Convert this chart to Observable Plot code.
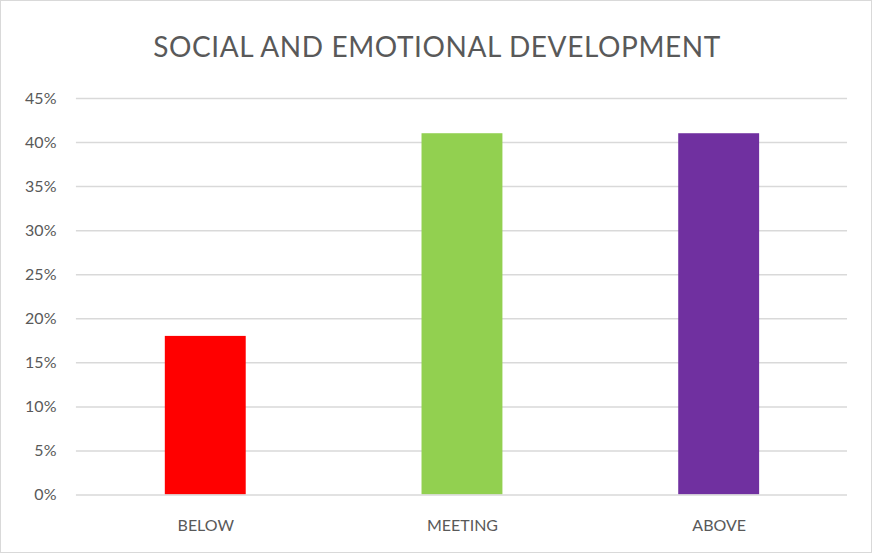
<!DOCTYPE html>
<html>
<head>
<meta charset="utf-8">
<script src="https://cdn.jsdelivr.net/npm/d3@7"></script>
<script src="https://cdn.jsdelivr.net/npm/@observablehq/plot@0.6"></script>
<style>
  html, body { margin: 0; padding: 0; background: #fff; }
  #chart {
    position: relative; width: 872px; height: 553px; box-sizing: border-box;
    border: 1px solid #d9d9d9; background: #fff; overflow: hidden;
  }
  #title {
    position: absolute; left: 0; top: 28px; width: 872px; text-align: center;
    font-family: Lato, "Open Sans", sans-serif; font-size: 28px; color: #595959;
    line-height: 34px; letter-spacing: 0.6px;
  }
  #plot { position: absolute; left: -1px; top: 77px; }
</style>
</head>
<body>
<div id="chart">
  <div id="title">SOCIAL AND EMOTIONAL DEVELOPMENT</div>
  <div id="plot"></div>
</div>
<script>
const categories = ["BELOW", "MEETING", "ABOVE"];
const values = [18, 41, 41];
const colors = ["#ff0000", "#92d050", "#7030a0"];
const yTicks = [0, 5, 10, 15, 20, 25, 30, 35, 40, 45];

const data = categories.map((c, i) => ({category: c, value: values[i], color: colors[i]}));

const chart = Plot.plot({
  width: 872,
  height: 476,
  marginTop: 20,
  marginBottom: 59,
  marginLeft: 76,
  marginRight: 24,
  style: {fontFamily: "Lato, 'Open Sans', sans-serif", fontSize: "16px", color: "#595959", background: "transparent"},
  x: {domain: categories, paddingInner: 0.685, paddingOuter: 0.3425, align: 0.5, label: null, tickSize: 0, tickPadding: 25},
  y: {domain: [0, 45], ticks: yTicks, tickFormat: d => d + "%", label: null, tickSize: 0, tickPadding: 20},
  marks: [
    Plot.gridY(yTicks.filter(d => d > 0), {stroke: "#d9d9d9", strokeOpacity: 1, strokeWidth: 1.5}),
    Plot.barY(data, {x: "category", y: "value", fill: "color"}),
    Plot.ruleY([0], {stroke: "#d9d9d9", strokeWidth: 1.5})
  ]
});
document.getElementById("plot").appendChild(chart);
</script>
</body>
</html>
